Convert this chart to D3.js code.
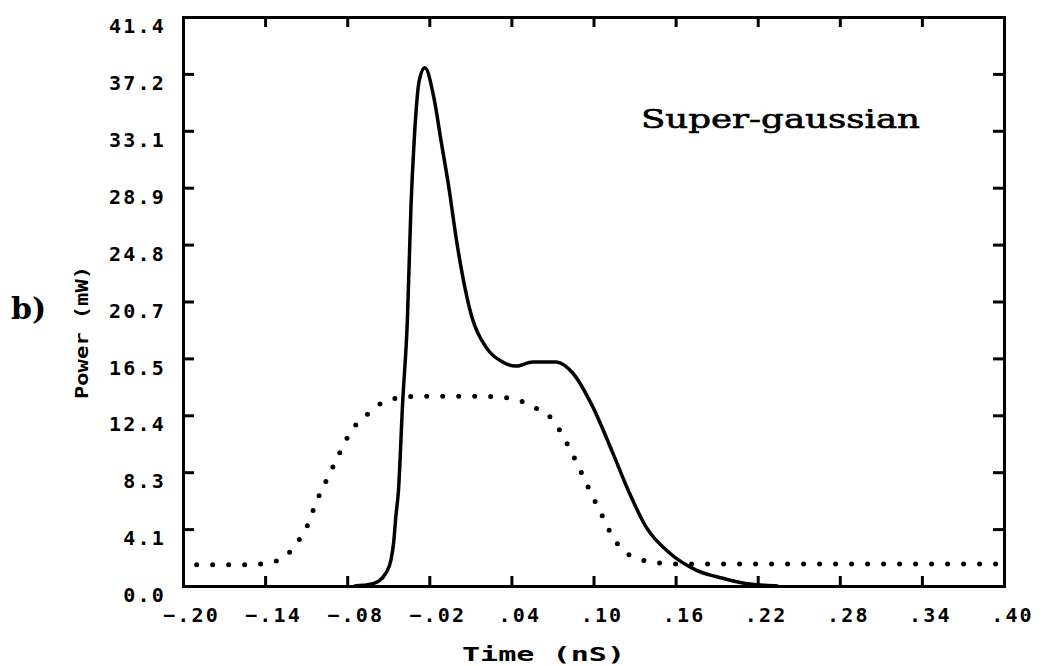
<!DOCTYPE html>
<html>
<head>
<meta charset="utf-8">
<script src="https://cdn.jsdelivr.net/npm/d3@7"></script>
<style>
  body { margin: 0; background: #fff; }
  .tick text { font-family: "DejaVu Sans Mono", monospace; font-weight: bold; font-size: 20px; letter-spacing: 2.2px; fill: #000; }
</style>
</head>
<body>
<div id="chart"></div>
<script>
// tick labels as printed on the plot
var xTicks = [-0.20, -0.14, -0.08, -0.02, 0.04, 0.10, 0.16, 0.22, 0.28, 0.34, 0.40]
var xTickLabels = ["\u2212.20", "\u2212.14", "\u2212.08", "\u2212.02", ".04", ".10", ".16", ".22", ".28", ".34", ".40"]
var yTicks = [0, 4.14, 8.28, 12.42, 16.56, 20.7, 24.84, 28.98, 33.12, 37.26, 41.4]
var yTickLabels = ["0.0", "4.1", "8.3", "12.4", "16.5", "20.7", "24.8", "28.9", "33.1", "37.2", "41.4"]

// output pulse (solid): time (nS) / power (mW)
var outT = [-0.075, -0.068, -0.062, -0.057, -0.052, -0.048, -0.046, -0.0445, -0.0425, -0.0395, -0.036, -0.0334, -0.031, -0.0273, -0.0233,
            -0.0164, -0.0116, -0.0054, -0.0005, 0.0116, 0.0213, 0.0336, 0.0433, 0.0555, 0.0726, 0.0848, 0.0994, 0.114, 0.1263,
            0.1384, 0.1556, 0.175, 0.1946, 0.21, 0.225, 0.235]
var outP = [0, 0.05, 0.15, 0.35, 0.9, 1.9, 3.2, 5.0, 7.0, 13.3, 19.4, 27.6, 32.5, 36.8, 37.7,
            35.4, 32.5, 28.8, 25.4, 19.4, 17.4, 16.3, 16.0, 16.3, 16.3, 15.5, 13.05, 9.7, 6.75,
            4.3, 2.4, 1.16, 0.56, 0.2, 0.05, 0]

// input super-gaussian pulse (dotted)
var inT = [-0.190, -0.150, -0.140, -0.131, -0.124, -0.118, -0.1137, -0.1095, -0.103, -0.0956, -0.0878, -0.081, -0.0762, -0.0652,
           -0.0506, -0.0298, 0.0177, 0.0396, 0.0567, 0.0701, 0.0799, 0.0909, 0.0982, 0.1055, 0.1128, 0.1226, 0.1397, 0.163, 0.395]
var inP = [1.55, 1.55, 1.65, 1.85, 2.3, 2.9, 3.6, 4.3, 6.0, 7.6, 9.2, 10.6, 11.4, 12.5,
           13.5, 13.8, 13.8, 13.66, 13.0, 12.1, 10.5, 8.3, 6.75, 5.3, 3.8, 2.5, 1.8, 1.6, 1.6]

var margin = {top: 17, right: 43, bottom: 80, left: 183},
    width = 1047 - margin.left - margin.right,
    height = 666 - margin.top - margin.bottom

var svg = d3.select("#chart")
  .append("svg")
    .attr("width", 1047)
    .attr("height", 666)
  .append("g")
    .attr("transform", "translate(" + margin.left + "," + margin.top + ")")

var x = d3.scaleLinear().domain([-0.20, 0.40]).range([0, width])
var y = d3.scaleLinear().domain([0, 41.4]).range([height, 0])

// bottom axis, ticks point inward
var xAxis = svg.append("g")
  .attr("transform", "translate(0," + height + ")")
  .call(d3.axisBottom(x).tickValues(xTicks).tickSize(-10).tickPadding(22)
    .tickFormat(function(d, i) { return xTickLabels[i] }))
xAxis.selectAll(".tick text").attr("dx", 8)

// top axis, ticks only
svg.append("g")
  .call(d3.axisTop(x).tickValues(xTicks).tickSize(-10).tickFormat(""))

// left axis
var yAxis = svg.append("g")
  .call(d3.axisLeft(y).tickValues(yTicks).tickSize(-11).tickPadding(17)
    .tickFormat(function(d, i) { return yTickLabels[i] }))
yAxis.selectAll(".tick text").attr("dy", "0.78em")

// right axis, ticks only
svg.append("g")
  .attr("transform", "translate(" + width + ",0)")
  .call(d3.axisRight(y).tickValues(yTicks).tickSize(-11).tickFormat(""))

svg.selectAll(".domain").attr("stroke", "#000").attr("stroke-width", 3)
svg.selectAll(".tick line").attr("stroke", "#000").attr("stroke-width", 3)

// curves
var line = d3.line()
  .x(function(d) { return x(d[0]) })
  .y(function(d) { return y(d[1]) })
  .curve(d3.curveMonotoneX)

svg.append("path")
  .datum(inT.map(function(t, i) { return [t, inP[i]] }))
  .attr("d", line)
  .attr("fill", "none")
  .attr("stroke", "#000")
  .attr("stroke-width", 5)
  .attr("stroke-linecap", "round")
  .attr("stroke-dasharray", "0,16")

svg.append("path")
  .datum(outT.map(function(t, i) { return [t, outP[i]] }))
  .attr("d", line)
  .attr("fill", "none")
  .attr("stroke", "#000")
  .attr("stroke-width", 3.5)
  .attr("stroke-linejoin", "round")

// labels
svg.append("text")
  .attr("x", 279).attr("y", height + 75)
  .attr("textLength", 163).attr("lengthAdjust", "spacingAndGlyphs")
  .style("font-family", "DejaVu Sans Mono").style("font-weight", "bold")
  .style("font-size", "19px")
  .text("Time (nS)")

svg.append("text")
  .attr("transform", "translate(" + (-95) + "," + 316 + ") rotate(-90)")
  .attr("x", -66)
  .attr("textLength", 133).attr("lengthAdjust", "spacingAndGlyphs")
  .style("font-family", "DejaVu Sans Mono").style("font-weight", "bold")
  .style("font-size", "17px")
  .text("Power (mW)")

svg.append("text")
  .attr("x", -172).attr("y", 302)
  .style("font-family", "DejaVu Serif").style("font-weight", "bold")
  .style("font-size", "30px")
  .text("b)")

svg.append("text")
  .attr("x", 458).attr("y", 111)
  .attr("textLength", 279).attr("lengthAdjust", "spacingAndGlyphs")
  .style("font-family", "DejaVu Serif")
  .style("font-size", "26px")
  .style("stroke", "#000").style("stroke-width", 0.6)
  .text("Super-gaussian")
</script>
</body>
</html>
